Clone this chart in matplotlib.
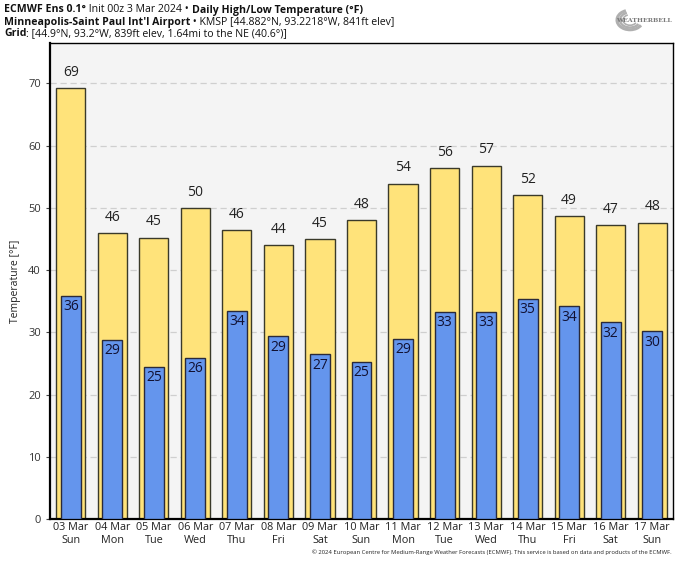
import numpy as np
import matplotlib
matplotlib.use('Agg')
import matplotlib.pyplot as plt
from matplotlib.patches import Arc

# daily high / low forecast (deg F)
dates = ['03 Mar', '04 Mar', '05 Mar', '06 Mar', '07 Mar', '08 Mar', '09 Mar', '10 Mar',
         '11 Mar', '12 Mar', '13 Mar', '14 Mar', '15 Mar', '16 Mar', '17 Mar']
days = ['Sun', 'Mon', 'Tue', 'Wed', 'Thu', 'Fri', 'Sat', 'Sun',
        'Mon', 'Tue', 'Wed', 'Thu', 'Fri', 'Sat', 'Sun']
highs = [69.2, 45.9, 45.2, 50.0, 46.4, 44.0, 45.0, 48.0, 53.9, 56.4, 56.8, 52.0, 48.7, 47.2, 47.6]
lows = [35.9, 28.8, 24.5, 25.9, 33.5, 29.4, 26.5, 25.3, 29.0, 33.3, 33.3, 35.4, 34.2, 31.6, 30.2]

plt.rcParams['font.family'] = ['Open Sans', 'DejaVu Sans']

fig = plt.figure(figsize=(6.8, 5.63), dpi=100)
ax = fig.add_axes([50 / 680, 44 / 563, 623 / 680, 476 / 563])
ax.set_facecolor('#f4f4f4')

x = np.arange(len(dates))
ax.bar(x, highs, width=0.7, color='#ffe37a', edgecolor='#3a3a2a', linewidth=1, zorder=2)
ax.bar(x, lows, width=0.48, color='#6495ed', edgecolor='#2a2a3a', linewidth=1, zorder=3)

for i in range(len(dates)):
    ax.annotate(str(int(np.floor(highs[i] + 0.5))), (x[i], highs[i]), xytext=(0, 6),
                textcoords='offset points', ha='center', va='bottom', fontsize=10, color='#222222')
    ax.annotate(str(int(np.floor(lows[i] + 0.5))), (x[i], lows[i]), xytext=(0, -2.5),
                textcoords='offset points', ha='center', va='top', fontsize=10, color='#111133', zorder=4)

ax.set_xlim(-0.5, 14.5)
ax.set_ylim(0, 76.5)
ax.set_yticks(range(0, 80, 10))
ax.set_xticks(x)
ax.set_xticklabels([d + '\n' + w for d, w in zip(dates, days)], fontsize=7.8, linespacing=1.3)
ax.tick_params(axis='x', length=0, pad=2, labelcolor='#222222')
ax.tick_params(axis='y', labelsize=8, length=3, color='#444444', labelcolor='#333333')
ax.yaxis.grid(True, linestyle=(0, (5, 3)), color='#cfcfcf', linewidth=0.9, zorder=0)
ax.set_axisbelow(True)
ax.set_ylabel('Temperature [°F]', fontsize=7.5, color='#222222', labelpad=5)
for s in ['left', 'bottom']:
    ax.spines[s].set_linewidth(1.6)
for s in ['top', 'right']:
    ax.spines[s].set_linewidth(1.0)

# header lines made of bold / normal pieces
fig.canvas.draw()
renderer = fig.canvas.get_renderer()


def draw_line(pieces, y):
    xpos = 4 / 680
    for txt, weight in pieces:
        t = fig.text(xpos, y, txt, fontsize=7.6, fontweight=weight, va='center', ha='left',
                     color='#111111')
        bb = t.get_window_extent(renderer=renderer)
        xpos += bb.width / fig.bbox.width


draw_line([('ECMWF Ens 0.1°', 'bold'), (' Init 00z 3 Mar 2024 • ', 'normal'),
           ('Daily High/Low Temperature (°F)', 'bold')], 1 - 10 / 563)
draw_line([('Minneapolis-Saint Paul Int\'l Airport', 'bold'),
           (' • KMSP [44.882°N, 93.2218°W, 841ft elev]', 'normal')], 1 - 22 / 563)
draw_line([('Grid', 'bold'), (': [44.9°N, 93.2°W, 839ft elev, 1.64mi to the NE (40.6°)]', 'normal')],
          1 - 34 / 563)

# logo stand-in: grey swirl and name
lx, ly = 630 / 680, 1 - 20 / 563
for k, w in enumerate([26, 20, 14]):
    fig.add_artist(Arc((lx, ly), w / 680, w * 0.75 / 563, theta1=110, theta2=330,
                       transform=fig.transFigure, color='#b0b0b0', lw=2.2 - 0.5 * k))
fig.text(644 / 680, ly, 'WEATHERBELL', fontsize=4.5, color='#7a7a7a', ha='center',
         va='center', family='serif', fontweight='bold')

fig.text(672 / 680, 1 - 552 / 563,
         '© 2024 European Centre for Medium-Range Weather Forecasts (ECMWF). '
         'This service is based on data and products of the ECMWF.',
         fontsize=4.2, ha='right', va='center', color='#222222')

fig.savefig('out.png', dpi=100)
